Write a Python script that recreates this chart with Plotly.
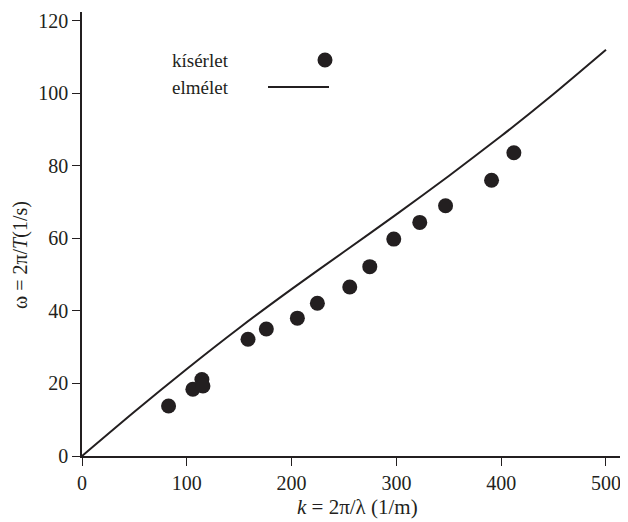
import plotly.graph_objects as go

# experimental data (kísérlet)
k_exp = [82.6, 105.8, 114.4, 115.4, 158.4, 175.9, 205.5, 224.6, 255.5, 274.6, 297.5, 322.3, 346.9, 390.8, 412.1]
w_exp = [13.8, 18.4, 21.1, 19.3, 32.2, 35.0, 38.0, 42.1, 46.6, 52.2, 59.8, 64.4, 69.0, 76.0, 83.6]

# theory curve (elmélet)
k_th = [0, 50, 100, 150, 200, 250, 300, 350, 400, 450, 500]
w_th = [0, 12.2, 24.0, 35.3, 46.0, 56.3, 66.6, 77.2, 88.2, 99.8, 112.0]

x_ticks = [0, 100, 200, 300, 400, 500]
y_ticks = [0, 20, 40, 60, 80, 100, 120]

INK = "#231f20"
FONT = "Liberation Serif, DejaVu Serif, Times New Roman, serif"
FS = 20
FT = 21

OFF = 8  # page body margin
W, H = 628 - OFF, 522 - OFF
L, R, T, B = 82 - OFF, 0, 12 - OFF, 66
pw, ph = W - L - R, H - T - B

def px(x):
    return (x - OFF - L) / pw

def py(y):
    return (H - B - (y - OFF)) / ph

fig = go.Figure()
fig.add_trace(go.Scatter(x=k_th, y=w_th, mode="lines",
                         line=dict(color=INK, width=2, shape="spline", smoothing=0.6),
                         showlegend=False, hoverinfo="skip"))
fig.add_trace(go.Scatter(x=k_exp, y=w_exp, mode="markers",
                         marker=dict(color=INK, size=15, line=dict(width=0)),
                         showlegend=False))

fig.update_layout(
    width=W, height=H,
    margin=dict(l=L, r=R, t=T, b=B),
    paper_bgcolor="white", plot_bgcolor="white",
    font=dict(family=FONT, size=FS, color=INK),
    xaxis=dict(range=[0, 521], tickvals=x_ticks, ticks="outside", ticklen=8,
               tickwidth=1.3, tickcolor=INK, showline=True, linecolor=INK, linewidth=1.5,
               showgrid=False, zeroline=False, tickfont=dict(family=FONT, size=FS, color=INK)),
    yaxis=dict(range=[0, 122.4], tickvals=y_ticks, ticks="outside", ticklen=8,
               tickwidth=1.3, tickcolor=INK, showline=True, linecolor=INK, linewidth=1.5,
               showgrid=False, zeroline=False, tickfont=dict(family=FONT, size=FS, color=INK)),
    showlegend=False,
)

ann = []
ann.append(dict(text="<i>k</i> = 2π/λ (1/m)", xref="paper", yref="paper",
                x=px(357), y=py(507), showarrow=False, xanchor="center", yanchor="middle",
                font=dict(family=FONT, size=FT, color=INK)))
ann.append(dict(text="ω = 2π/<i>T</i>(1/s)", xref="paper", yref="paper",
                x=px(20), y=py(255), showarrow=False, xanchor="center", yanchor="middle",
                textangle=-90, borderpad=0, font=dict(family=FONT, size=20, color=INK)))
ann.append(dict(text="kísérlet", xref="paper", yref="paper", x=px(170), y=py(60),
                showarrow=False, xanchor="left", yanchor="middle",
                font=dict(family=FONT, size=19, color=INK)))
ann.append(dict(text="elmélet", xref="paper", yref="paper", x=px(170), y=py(87),
                showarrow=False, xanchor="left", yanchor="middle",
                font=dict(family=FONT, size=19, color=INK)))
fig.update_layout(annotations=ann)

r = 7.5
fig.add_shape(type="circle", xref="paper", yref="paper",
              x0=px(325 - r), x1=px(325 + r), y0=py(60 + r), y1=py(60 - r),
              fillcolor=INK, line=dict(width=0))
fig.add_shape(type="line", xref="paper", yref="paper",
              x0=px(268), x1=px(329), y0=py(87), y1=py(87),
              line=dict(color=INK, width=2))

fig.write_html("out.html")
